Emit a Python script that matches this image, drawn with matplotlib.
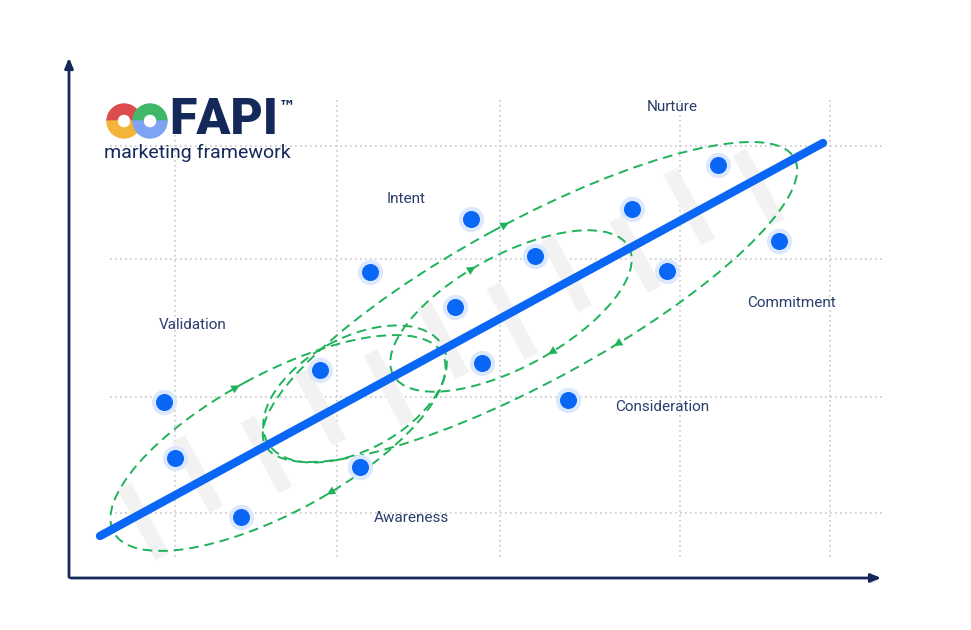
import numpy as np
import matplotlib
matplotlib.use("Agg")
import matplotlib.pyplot as plt
from matplotlib.patches import Ellipse, Wedge

# data (pixel-space positions of the illustration)
dot_x = [164, 175, 241, 320, 360, 370, 455, 482, 471, 535, 568, 632, 667, 718, 779]
dot_y = [402, 458, 517, 370, 467, 272, 307, 363, 219, 256, 400, 209, 271, 165, 241]
trend_x = [100, 823]
trend_y = [536, 143]
stage_labels = ["Nurture", "Intent", "Validation", "Commitment", "Consideration", "Awareness"]
stage_x = [672, 406, 193, 792, 662, 411]
stage_y = [107, 199, 325, 303, 407, 518]
# ellipses: center x, center y, semi-major, semi-minor
ell_cx = [278, 355, 511, 530]
ell_cy = [443, 394, 311, 302]
ell_a = [187, 100, 134, 301]
ell_b = [69, 56, 56, 80]
arrow_pts = [[(230, 377, 1), (335, 500, -1)], [], [(470, 265, 1), (555, 358, -1)], [(505, 225, 1), (617, 345, -1)]]
grid_vx = [175, 337, 500, 680, 830]
grid_hy = [146, 259, 397, 513]

navy = "#14285a"
blue = "#0a66f5"
green = "#1fb25a"

fig = plt.figure(figsize=(9.71, 6.3), dpi=100)
ax = fig.add_axes([0, 0, 1, 1])
ax.set_xlim(0, 971)
ax.set_ylim(630, 0)
ax.axis("off")

for gx in grid_vx:
    ax.plot([gx, gx], [100, 558], color="#c8c8c8", lw=1.2, ls=(0, (1, 2)), zorder=1)
for gy in grid_hy:
    ax.plot([110, 885], [gy, gy], color="#c8c8c8", lw=1.2, ls=(0, (1, 2)), zorder=1)

# axes arrows
ax.annotate("", xy=(69, 55), xytext=(69, 580),
            arrowprops=dict(arrowstyle="-|>,head_length=0.6,head_width=0.25", color=navy, lw=2))
ax.annotate("", xy=(884, 578), xytext=(68, 578),
            arrowprops=dict(arrowstyle="-|>,head_length=0.6,head_width=0.25", color=navy, lw=2))

ang = np.degrees(np.arctan2(trend_y[0] - trend_y[1], trend_x[1] - trend_x[0]))
th = np.radians(ang)
u = np.array([np.cos(th), -np.sin(th)])
v = np.array([np.sin(th), np.cos(th)])

# gray perpendicular bars
p0 = np.array([trend_x[0], trend_y[0]], float)
L = np.hypot(trend_x[1] - trend_x[0], trend_y[1] - trend_y[0])
for j, s in enumerate(np.arange(45, L - 20, 70)):
    c = p0 + u * s
    off = 8 if j % 2 == 0 else -8
    a1 = c + v * (off - 40)
    a2 = c + v * (off + 40)
    ax.plot([a1[0], a2[0]], [a1[1], a2[1]], color="#f2f2f2", lw=11, solid_capstyle="butt", zorder=1.5)

# ellipses
for i in range(len(ell_cx)):
    ax.add_patch(Ellipse((ell_cx[i], ell_cy[i]), 2 * ell_a[i], 2 * ell_b[i], angle=-ang,
                         fill=False, ec=green, lw=1.4, ls=(0, (5, 3)), zorder=3))
    ts = np.linspace(0, 2 * np.pi, 720)
    pts = np.array([ell_cx[i], ell_cy[i]])[None, :] + np.outer(ell_a[i] * np.cos(ts), u) + np.outer(ell_b[i] * np.sin(ts), v)
    for (px, py, sgn) in arrow_pts[i]:
        k = np.argmin((pts[:, 0] - px) ** 2 + (pts[:, 1] - py) ** 2)
        t = ts[k]
        d = -ell_a[i] * np.sin(t) * u + ell_b[i] * np.cos(t) * v
        d = d / np.linalg.norm(d)
        if np.sign(d[0]) != sgn:
            d = -d
        p = pts[k]
        ax.annotate("", xy=p + d * 7, xytext=p - d * 2,
                    arrowprops=dict(arrowstyle="-|>,head_length=0.6,head_width=0.3", color=green, lw=0.1), zorder=4)

# trend line
ax.plot(trend_x, trend_y, color=blue, lw=6, solid_capstyle="round", zorder=5)

# dots
ax.scatter(dot_x, dot_y, s=330, color="#dbe8fd", zorder=6, lw=0)
ax.scatter(dot_x, dot_y, s=150, color=blue, zorder=7, lw=0)

for t, x, y in zip(stage_labels, stage_x, stage_y):
    ax.text(x, y, t, color="#2a3d6b", fontsize=11, ha="center", va="center", family="Roboto", zorder=8)

# logo (y axis inverted: angles 180-360 are the upper half)
ax.add_patch(Wedge((124, 121), 17, 180, 360, width=10, color="#dc4c4c", zorder=8))
ax.add_patch(Wedge((124, 121), 17, 0, 180, width=10, color="#f2b53a", zorder=8))
ax.add_patch(Wedge((150, 121), 17, 180, 360, width=10, color="#3fb86a", zorder=8))
ax.add_patch(Wedge((150, 121), 17, 0, 180, width=10, color="#7ea3f5", zorder=8))
ax.text(169, 121, "FAPI", fontsize=36, fontweight="black", color=navy, va="center", ha="left",
        family="Roboto", zorder=8)
ax.text(279, 106, "™", fontsize=12, fontweight="bold", color=navy, va="center", ha="left", zorder=8)
ax.text(104, 153, "marketing framework", fontsize=14, color=navy, va="center", ha="left",
        family="Roboto", zorder=8)

fig.savefig("out.png", dpi=100, facecolor="white")
